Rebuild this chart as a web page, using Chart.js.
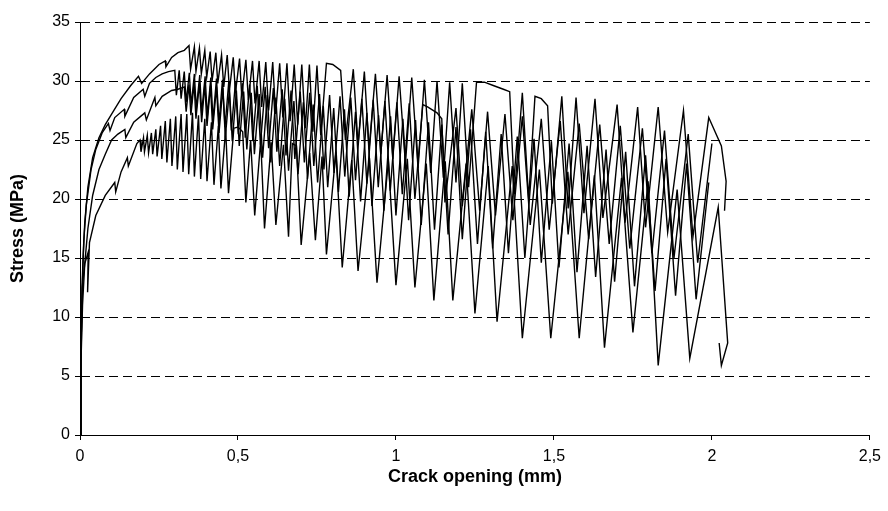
<!DOCTYPE html>
<html>
<head>
<meta charset="utf-8">
<script src="https://cdn.jsdelivr.net/npm/chart.js@4/dist/chart.umd.min.js"></script>
<style>
  body { margin: 0; background: #fff; }
  canvas { display: block; }
</style>
</head>
<body>
<canvas id="chart" width="888" height="511"></canvas>
<script>
// axis ticks
const xTicks = [0, 0.5, 1, 1.5, 2, 2.5];
const yTicks = [0, 5, 10, 15, 20, 25, 30, 35];

// specimen curves, [crack opening mm, stress MPa]
const curveA = [
  [0,0],[0.003,6],[0.006,11],[0.01,15],[0.015,18],[0.025,21],[0.04,23.5],[0.06,25.2],[0.08,26.3],[0.1,27.2],
  [0.13,28.5],[0.16,29.6],[0.185,30.4],[0.195,29.8],[0.22,30.6],[0.25,31.4],[0.27,31.7],[0.272,31.2],[0.29,32.0],
  [0.31,32.4],[0.33,32.6],
  [0.345,33.0],[0.350,31.0],[0.362,32.9],[0.367,30.8],[0.378,32.8],[0.384,30.6],[0.395,32.6],[0.401,30.3],
  [0.412,32.5],[0.418,30.0],[0.430,32.4],[0.436,29.8],[0.448,32.2],[0.455,29.5],[0.466,32.2],[0.473,29.2],
  [0.485,32.0],[0.492,29.0],[0.505,31.9],[0.512,28.7],[0.525,31.8],[0.533,28.4],[0.546,31.7],[0.554,28.1],
  [0.567,31.7],[0.575,27.8],[0.588,31.6],[0.597,27.5],[0.610,31.6],[0.619,27.2],[0.632,31.5],[0.642,26.9],
  [0.655,31.5],[0.665,26.6],[0.678,31.4],[0.689,26.3],[0.702,31.4],[0.713,26.0],[0.726,31.4],[0.737,25.7],
  [0.750,31.3],[0.762,25.4],[0.78,31.5],[0.80,31.4],[0.825,30.9],[0.84,25.0],[0.865,31.0],[0.88,24.6],
  [0.90,30.8],[0.915,24.2],[0.935,30.6],[0.952,23.8],[0.972,30.5],[0.99,23.4],[1.01,30.4],[1.03,23.0],
  [1.05,30.3],[1.07,22.6],[1.09,30.1],[1.11,22.2],[1.13,30.0],[1.15,21.8],[1.17,29.9],[1.19,21.4],
  [1.21,29.8],[1.23,21.0],[1.255,29.9],[1.28,29.9],[1.31,29.6],[1.34,29.3],[1.36,29.1],[1.375,20.4],
  [1.40,29.0],[1.42,20.0],[1.44,28.7],[1.46,28.5],[1.48,27.9],[1.495,19.6],[1.525,28.7],[1.545,19.2],
  [1.57,28.6],[1.595,18.8],[1.63,28.5],[1.655,18.4],[1.70,28.0],[1.725,18.0],[1.765,27.8],[1.79,17.6],
  [1.83,27.8],[1.86,17.2],[1.91,27.5],[1.94,16.8],[1.99,26.9],[2.03,24.5],[2.045,21.5],[2.04,19.0]
];
const curveB = [
  [0,0],[0.003,7],[0.007,13],[0.012,16.5],[0.02,19.5],[0.035,22.5],[0.05,24.2],[0.07,25.6],[0.09,26.4],[0.095,25.8],
  [0.11,26.9],[0.14,27.6],[0.142,27.0],[0.17,28.6],[0.2,29.3],[0.205,28.7],[0.22,29.8],[0.24,30.3],[0.26,30.6],
  [0.28,30.8],
  [0.30,30.9],[0.305,28.8],[0.314,30.9],[0.320,28.5],[0.330,30.8],[0.336,28.2],[0.346,30.7],[0.352,27.9],
  [0.362,30.6],[0.368,27.6],[0.379,30.5],[0.385,27.3],[0.396,30.4],[0.403,27.0],[0.414,30.3],[0.421,26.7],
  [0.432,30.2],[0.440,26.4],[0.451,30.1],[0.459,26.1],[0.471,30.0],[0.479,25.8],[0.492,29.9],[0.501,25.5],
  [0.514,29.8],[0.523,25.2],[0.537,29.7],[0.547,24.9],[0.561,29.6],[0.571,24.6],[0.586,29.5],[0.597,24.3],
  [0.612,29.4],[0.623,24.0],[0.640,29.3],[0.652,23.7],[0.668,29.2],[0.680,23.4],[0.697,29.1],[0.710,23.1],
  [0.727,29.0],[0.740,22.8],[0.758,28.9],[0.772,22.5],[0.790,28.8],[0.804,22.2],[0.823,28.7],[0.838,21.9],
  [0.857,28.6],[0.872,21.6],[0.892,28.5],[0.908,21.3],[0.928,28.4],[0.944,21.0],[0.965,28.3],[0.982,20.7],
  [1.003,28.2],[1.02,20.4],[1.042,28.1],[1.06,20.0],[1.085,28.0],[1.10,27.8],[1.13,27.3],[1.145,26.8],
  [1.155,19.7],[1.19,27.7],[1.21,19.4],[1.24,27.6],[1.265,19.0],[1.29,27.4],[1.315,18.6],[1.345,27.2],
  [1.37,18.2],[1.40,27.0],[1.425,17.8],[1.46,26.8],[1.485,17.4],[1.52,26.6],[1.545,17.0],[1.58,26.4],
  [1.61,16.6],[1.645,26.3],[1.675,16.2],[1.71,26.2],[1.74,15.8],[1.78,26.0],[1.81,15.4],[1.85,25.8],
  [1.88,15.0],[1.925,25.5],[1.955,14.6],[2.00,24.7]
];
const curveC = [
  [0,0],[0.003,6],[0.008,11],[0.015,14.5],[0.025,17.5],[0.04,20.3],[0.06,22.5],[0.08,23.8],[0.1,25.0],[0.12,25.5],
  [0.142,25.9],[0.145,25.2],[0.17,26.5],[0.205,27.3],[0.21,26.7],[0.237,28.6],[0.24,27.9],[0.26,28.7],[0.29,29.2],
  [0.31,29.3],
  [0.33,29.5],[0.336,27.4],[0.345,29.7],[0.351,27.1],[0.361,29.8],[0.367,26.8],[0.378,29.8],[0.385,26.5],
  [0.395,29.7],[0.402,26.2],[0.413,29.6],[0.420,25.9],[0.432,29.5],[0.440,25.6],[0.452,29.4],[0.460,25.2],
  [0.473,29.3],[0.482,24.9],[0.495,29.2],[0.504,24.5],[0.518,29.1],[0.528,24.2],[0.542,29.0],[0.552,23.8],
  [0.567,28.9],[0.578,23.5],[0.593,28.8],[0.604,23.1],[0.620,28.6],[0.632,22.8],[0.648,28.5],[0.660,22.4],
  [0.677,28.3],[0.690,22.1],[0.707,28.2],[0.720,21.7],[0.738,28.0],[0.752,21.4],[0.770,27.9],[0.784,21.0],
  [0.803,27.7],[0.818,20.6],[0.837,27.6],[0.852,20.2],[0.872,27.4],[0.888,19.8],[0.908,27.3],[0.924,19.4],
  [0.945,27.1],[0.962,19.0],[0.983,27.0],[1.0,18.6],[1.022,26.8],[1.04,18.2],[1.062,26.7],[1.08,17.8],
  [1.103,26.5],[1.122,17.4],[1.145,26.3],[1.165,17.0],[1.19,26.1],[1.21,16.6],[1.236,25.9],[1.258,16.2],
  [1.284,25.7],[1.306,15.8],[1.333,25.5],[1.356,15.4],[1.384,25.3],[1.408,15.0],[1.437,25.1],[1.46,14.6],
  [1.492,24.9],[1.516,14.2],[1.548,24.7],[1.573,13.8],[1.605,24.5],[1.632,13.4],[1.665,24.2],[1.692,13.0],
  [1.727,24.0],[1.755,12.6],[1.79,23.7],[1.82,12.2],[1.855,23.4],[1.885,11.8],[1.92,23.0],[1.95,11.5],
  [1.99,21.4]
];
const curveD = [
  [0,0],[0.003,7],[0.007,12.5],[0.015,14.5],[0.026,15.5],[0.024,12.1],[0.03,16.3],[0.05,18.6],[0.08,20.3],
  [0.11,21.4],[0.113,20.6],[0.13,22.3],[0.15,23.5],[0.153,22.8],[0.18,24.7],
  [0.19,25.0],[0.193,24.0],[0.201,25.2],[0.204,24.0],[0.213,25.4],[0.217,23.9],[0.226,25.6],[0.230,23.8],
  [0.240,25.9],[0.244,23.6],[0.255,26.2],[0.259,23.4],[0.270,26.6],[0.275,23.1],[0.286,26.8],[0.291,22.8],
  [0.303,27.0],[0.308,22.5],[0.320,27.2],[0.326,22.3],[0.338,27.2],[0.344,22.1],[0.356,27.3],[0.362,21.9],
  [0.375,27.1],[0.382,21.7],[0.395,26.8],[0.402,21.5],[0.416,26.5],[0.424,21.2],[0.438,26.2],[0.446,20.9],
  [0.461,25.9],[0.470,20.5],[0.487,26.0],[0.50,26.1],[0.515,25.7],[0.525,19.7],
  [0.540,25.0],[0.553,18.6],[0.572,25.0],[0.584,17.5],[0.605,24.8],[0.620,17.8],[0.644,24.6],[0.660,16.8],
  [0.672,24.7],[0.685,24.5],[0.700,16.1],[0.727,23.9],[0.745,16.5],[0.766,23.6],[0.780,15.3],[0.810,24.0],
  [0.830,14.2],[0.860,23.3],[0.880,13.9],[0.916,23.5],[0.940,12.9],[0.976,23.2],[1.000,12.7],[1.036,23.4],
  [1.060,12.5],[1.096,23.0],[1.120,11.4],[1.156,23.2],[1.180,11.4],[1.222,23.0],[1.250,10.3],[1.292,22.8],
  [1.320,9.6],[1.368,22.8],[1.400,8.2],[1.454,22.5],[1.490,8.2],[1.544,22.3],[1.580,8.2],[1.628,22.0],
  [1.660,7.4],[1.714,21.8],[1.750,8.7],[1.798,21.5],[1.830,5.9],[1.890,20.8],[1.930,6.5],[2.02,19.3],
  [2.05,7.8],[2.03,5.9],[2.023,7.8]
];

const curves = [curveA, curveB, curveC, curveD];
const fontFamily = 'Liberation Sans, Arial, sans-serif';

const ctx = document.getElementById('chart').getContext('2d');
const chart = new Chart(ctx, {
  type: 'scatter',
  data: {
    datasets: curves.map(c => ({
      data: c.map(p => ({x: p[0], y: p[1]})),
      showLine: true,
      borderColor: '#000',
      borderWidth: 1.4,
      pointRadius: 0,
      tension: 0,
      fill: false
    }))
  },
  options: {
    responsive: false,
    animation: false,
    layout: { padding: { left: 0, right: 17, top: 22, bottom: 0 } },
    plugins: { legend: { display: false }, tooltip: { enabled: false } },
    scales: {
      x: {
        type: 'linear',
        min: xTicks[0],
        max: xTicks[xTicks.length - 1],
        afterBuildTicks: s => { s.ticks = xTicks.map(v => ({value: v})); },
        afterFit: s => { s.height = 76; },
        grid: { drawOnChartArea: false, drawTicks: true, tickLength: 5, color: '#000' },
        border: { color: '#000', width: 1 },
        ticks: {
          color: '#000', padding: 7,
          font: { family: fontFamily, size: 16 },
          callback: v => String(v).replace('.', ',')
        },
        title: {
          display: true, text: 'Crack opening (mm)', color: '#000',
          font: { family: fontFamily, size: 18, weight: 'bold' },
          padding: { top: 0, bottom: 23 }
        }
      },
      y: {
        type: 'linear',
        min: yTicks[0],
        max: yTicks[yTicks.length - 1],
        afterBuildTicks: s => { s.ticks = yTicks.map(v => ({value: v})); },
        afterFit: s => { s.width = 80; },
        grid: { color: '#000', lineWidth: 1, drawTicks: true, tickLength: 5 },
        border: { color: '#000', width: 1, dash: [9, 5] },
        ticks: {
          color: '#000', padding: 5,
          font: { family: fontFamily, size: 16 }
        },
        title: {
          display: true, text: 'Stress (MPa)', color: '#000',
          font: { family: fontFamily, size: 18, weight: 'bold' },
          padding: { top: 7, bottom: 0 }
        }
      }
    }
  }
});
</script>
</body>
</html>
